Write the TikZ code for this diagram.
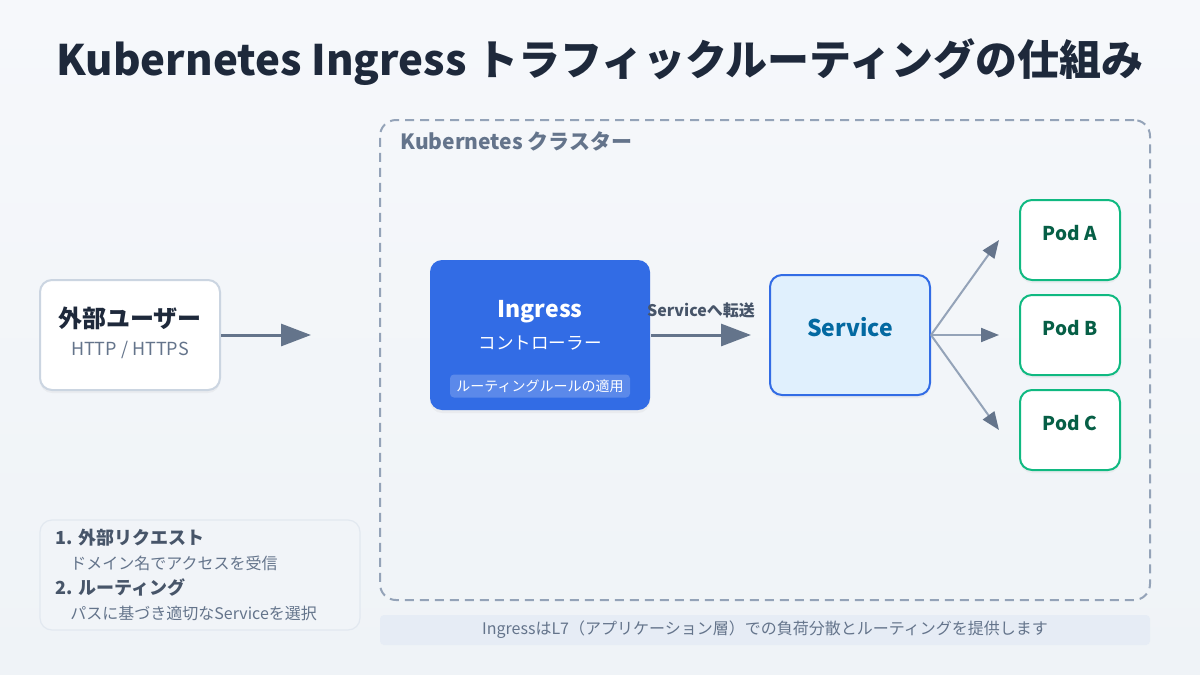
\documentclass[tikz,border=0pt]{standalone}
\usepackage{fontspec}
\setmainfont{Noto Sans CJK JP}
\usepackage{tikz}
\usetikzlibrary{arrows.meta, positioning, shadows}

\definecolor{bgtop}{HTML}{F6F8FB}
\definecolor{bgbot}{HTML}{EFF3F7}
\definecolor{titlecol}{HTML}{1E293B}
\definecolor{slate}{HTML}{64748B}
\definecolor{slatedk}{HTML}{475569}
\definecolor{slatelt}{HTML}{94A3B8}
\definecolor{edgegray}{HTML}{CBD5E1}
\definecolor{k8sblue}{HTML}{326CE5}
\definecolor{svcfill}{HTML}{E0F0FD}
\definecolor{svctext}{HTML}{0369A1}
\definecolor{podgreen}{HTML}{10B981}
\definecolor{podtext}{HTML}{065F46}
\definecolor{notefill}{HTML}{F1F4F8}
\definecolor{noteedge}{HTML}{E2E8F0}
\definecolor{footfill}{HTML}{E6ECF5}

\newcommand{\fsz}[1]{\fontsize{#1}{#1}\selectfont}

\begin{document}
\begin{tikzpicture}[x=0.5pt, y=-0.5pt,
    box/.style={rounded corners=6pt, line width=1pt, inner sep=0pt},
    shade/.style={drop shadow={opacity=0.08, shadow xshift=0pt, shadow yshift=-1.5pt}},
    pod/.style={box, shade, draw=podgreen, fill=white, minimum width=50pt, minimum height=40pt},
    podlbl/.style={font=\bfseries\fsz{9.5}, text=podtext},
    arr/.style={-{Triangle[length=15pt, width=11pt]}, line width=1.5pt, draw=slate},
    podarr/.style={-{Triangle[length=9pt, width=7pt, color=slate]}, line width=1pt, draw=slatelt},
    note/.style={anchor=west, inner sep=0pt}
]
\useasboundingbox (0,0) rectangle (1200,675);
\shade[top color=bgtop, bottom color=bgbot] (0,0) rectangle (1200,675);

\node[font=\bfseries\fsz{21}, text=titlecol] (title) at (600,62)
    {Kubernetes Ingress トラフィックルーティングの仕組み};

% cluster
\node[box, draw=slatelt, dash pattern=on 4.5pt off 3pt, rounded corners=8pt,
      minimum width=385pt, minimum height=240pt] (cluster) at (765,360) {};
\node[anchor=west, inner sep=0pt, font=\bfseries\fsz{10.5}, text=slate] (clusterlbl) at (400,141)
    {Kubernetes クラスター};

% external user
\node[box, shade, draw=edgegray, fill=white, minimum width=90pt, minimum height=55pt] (user) at (130,335) {};
\node[font=\bfseries\fsz{12}, text=titlecol] (usertitle) at (130,318) {外部ユーザー};
\node[font=\fsz{9}, text=slate] (usersub) at (130,350) {HTTP / HTTPS};

% ingress controller
\node[box, shade, fill=k8sblue, minimum width=110pt, minimum height=75pt] (ingress) at (540,335) {};
\node[font=\bfseries\fsz{11.5}, text=white] (ingtitle) at (540,312) {Ingress};
\node[font=\fsz{8.8}, text=white] (ingsub) at (540,343) {コントローラー};
\node[fill=white, fill opacity=0.2, text opacity=1, rounded corners=2pt, inner sep=0pt,
      minimum width=90pt, minimum height=11.5pt, font=\fsz{7}, text=white] (ingtag) at (540,386)
    {ルーティングルールの適用};

% service
\node[box, shade, draw=k8sblue, fill=svcfill, minimum width=80pt, minimum height=60pt] (svc) at (850,335) {};
\node[font=\bfseries\fsz{11.5}, text=svctext] (svclbl) at (850,327) {Service};

% pods
\node[pod] (podA) at (1070,240) {};
\node[pod] (podB) at (1070,335) {};
\node[pod] (podC) at (1070,430) {};
\node[podlbl] (podAlbl) at (1070,233) {Pod A};
\node[podlbl] (podBlbl) at (1070,328) {Pod B};
\node[podlbl] (podClbl) at (1070,423) {Pod C};

% connectors
\draw[arr] (user.east) -- ([xshift=-59pt]ingress.west);
\draw[arr] (ingress.east) -- node[midway, yshift=12.5pt, font=\bfseries\fsz{8}, text=slatedk] (fwdlbl)
    {Serviceへ転送} ([xshift=-9pt]svc.west);
\draw[podarr] (svc.east) -- ([xshift=-10pt]podA.west);
\draw[podarr] (svc.east) -- ([xshift=-10pt]podB.west);
\draw[podarr] (svc.east) -- ([xshift=-10pt]podC.west);

% notes
\node[box, draw=noteedge, fill=notefill, line width=0.6pt, minimum width=160pt, minimum height=55pt] (notes) at (200,575) {};
\node[note, font=\bfseries\fsz{9}, text=slatedk] (step1) at (55,538) {1. 外部リクエスト};
\node[note, font=\fsz{8}, text=slate] (step1d) at (70,563) {ドメイン名でアクセスを受信};
\node[note, font=\bfseries\fsz{9}, text=slatedk] (step2) at (55,587) {2. ルーティング};
\node[note, font=\fsz{8}, text=slate] (step2d) at (70,613) {パスに基づき適切なServiceを選択};

% footer
\node[fill=footfill, rounded corners=2pt, inner sep=0pt, minimum width=385pt, minimum height=15pt,
      font=\fsz{8}, text=slate] (footer) at (765,630)
    {IngressはL7（アプリケーション層）での負荷分散とルーティングを提供します};
\end{tikzpicture}
\end{document}
